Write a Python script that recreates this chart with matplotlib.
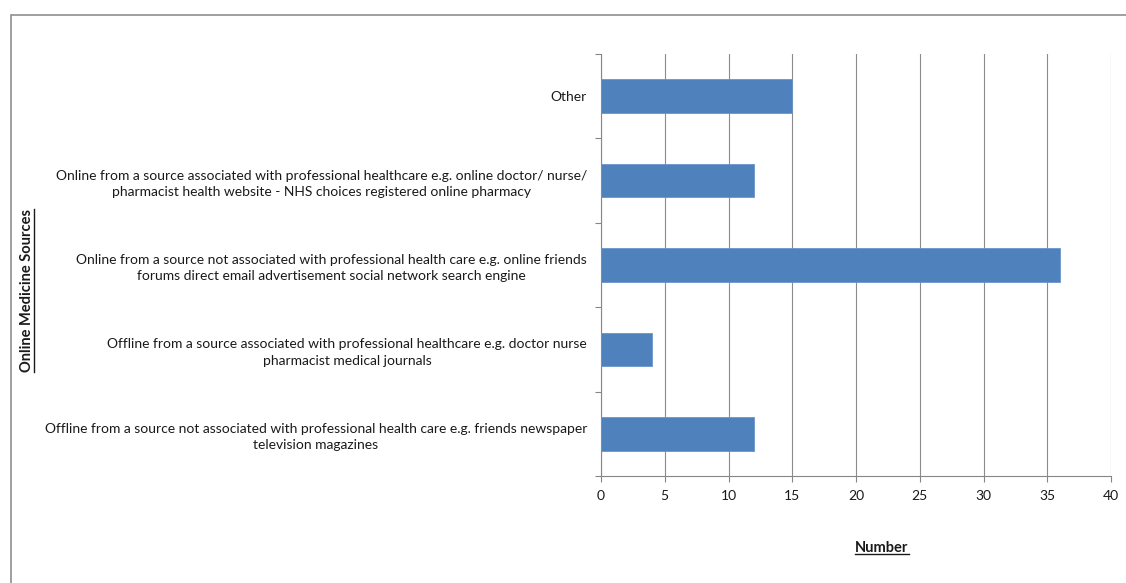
import matplotlib.pyplot as plt
from matplotlib.patches import Rectangle
from matplotlib.lines import Line2D

plt.rcParams['font.family'] = ['Lato', 'DejaVu Sans']

# categories top to bottom as shown on the chart
sources = [
    "Other",
    "Online from a source associated with professional healthcare e.g. online doctor/ nurse/\npharmacist health website - NHS choices registered online pharmacy",
    "Online from a source not associated with professional health care e.g. online friends\nforums direct email advertisement social network search engine",
    "Offline from a source associated with professional healthcare e.g. doctor nurse\npharmacist medical journals",
    "Offline from a source not associated with professional health care e.g. friends newspaper\ntelevision magazines",
]
counts = [15, 12, 36, 4, 12]
x_ticks = [0, 5, 10, 15, 20, 25, 30, 35, 40]

W, H = 1126, 583
fig = plt.figure(figsize=(W / 100, H / 100), dpi=100)
ax = fig.add_axes([601 / W, 1 - 476 / H, 510 / W, 422 / H])

ypos = list(range(len(sources)))
ax.barh(ypos, counts, height=0.4, color='#4F81BD', edgecolor='#6A95C8', linewidth=0.6, zorder=3)
ax.set_ylim(len(sources) - 0.5, -0.5)
ax.set_xlim(0, 40)
ax.set_xticks(x_ticks)
ax.set_xticklabels([str(t) for t in x_ticks])

ax.set_yticks(ypos)
ax.set_yticklabels(sources)
ax.set_yticks([y - 0.5 for y in range(len(sources) + 1)], minor=True)
ax.tick_params(axis='y', which='major', length=0, pad=10, labelsize=10, labelcolor='#1a1a1a')
ax.tick_params(axis='y', which='minor', length=4, color='#868686', width=0.8)
ax.tick_params(axis='x', which='major', length=4, color='#868686', width=0.8, pad=6,
               labelsize=10, labelcolor='#1a1a1a')
for lbl in ax.get_yticklabels():
    lbl.set_multialignment('center')
    lbl.set_linespacing(1.45)

ax.grid(axis='x', color='#8c8c8c', linewidth=0.8, zorder=0)
ax.set_axisbelow(True)
for side in ['top', 'right']:
    ax.spines[side].set_visible(False)
for side in ['left', 'bottom']:
    ax.spines[side].set_color('#868686')
    ax.spines[side].set_linewidth(0.8)

# outer chart frame
fig.patches.append(Rectangle((11 / W, -0.1), 1.2, 1 - 15 / H + 0.1, transform=fig.transFigure,
                             fill=False, edgecolor='#8f8f8f', linewidth=1.2))

xlab = fig.text(882 / W, 1 - 548 / H, "Number", ha='center', va='center',
                fontsize=10.5, fontweight='bold', color='#1a1a1a')
ylab = fig.text(27 / W, 1 - 290 / H, "Online Medicine Sources", ha='center', va='center',
                rotation=90, fontsize=10.5, fontweight='bold', color='#1a1a1a')

# underline both axis titles
fig.canvas.draw()
r = fig.canvas.get_renderer()
inv = fig.transFigure.inverted()
bb = xlab.get_window_extent(r).transformed(inv)
fig.add_artist(Line2D([bb.x0, bb.x1], [bb.y0 + 1 / H, bb.y0 + 1 / H], transform=fig.transFigure,
                      color='#1a1a1a', linewidth=1.0))
bb = ylab.get_window_extent(r).transformed(inv)
fig.add_artist(Line2D([bb.x1 - 0.5 / W, bb.x1 - 0.5 / W], [bb.y0, bb.y1], transform=fig.transFigure,
                      color='#1a1a1a', linewidth=1.0))

fig.savefig('out.png', dpi=100)
